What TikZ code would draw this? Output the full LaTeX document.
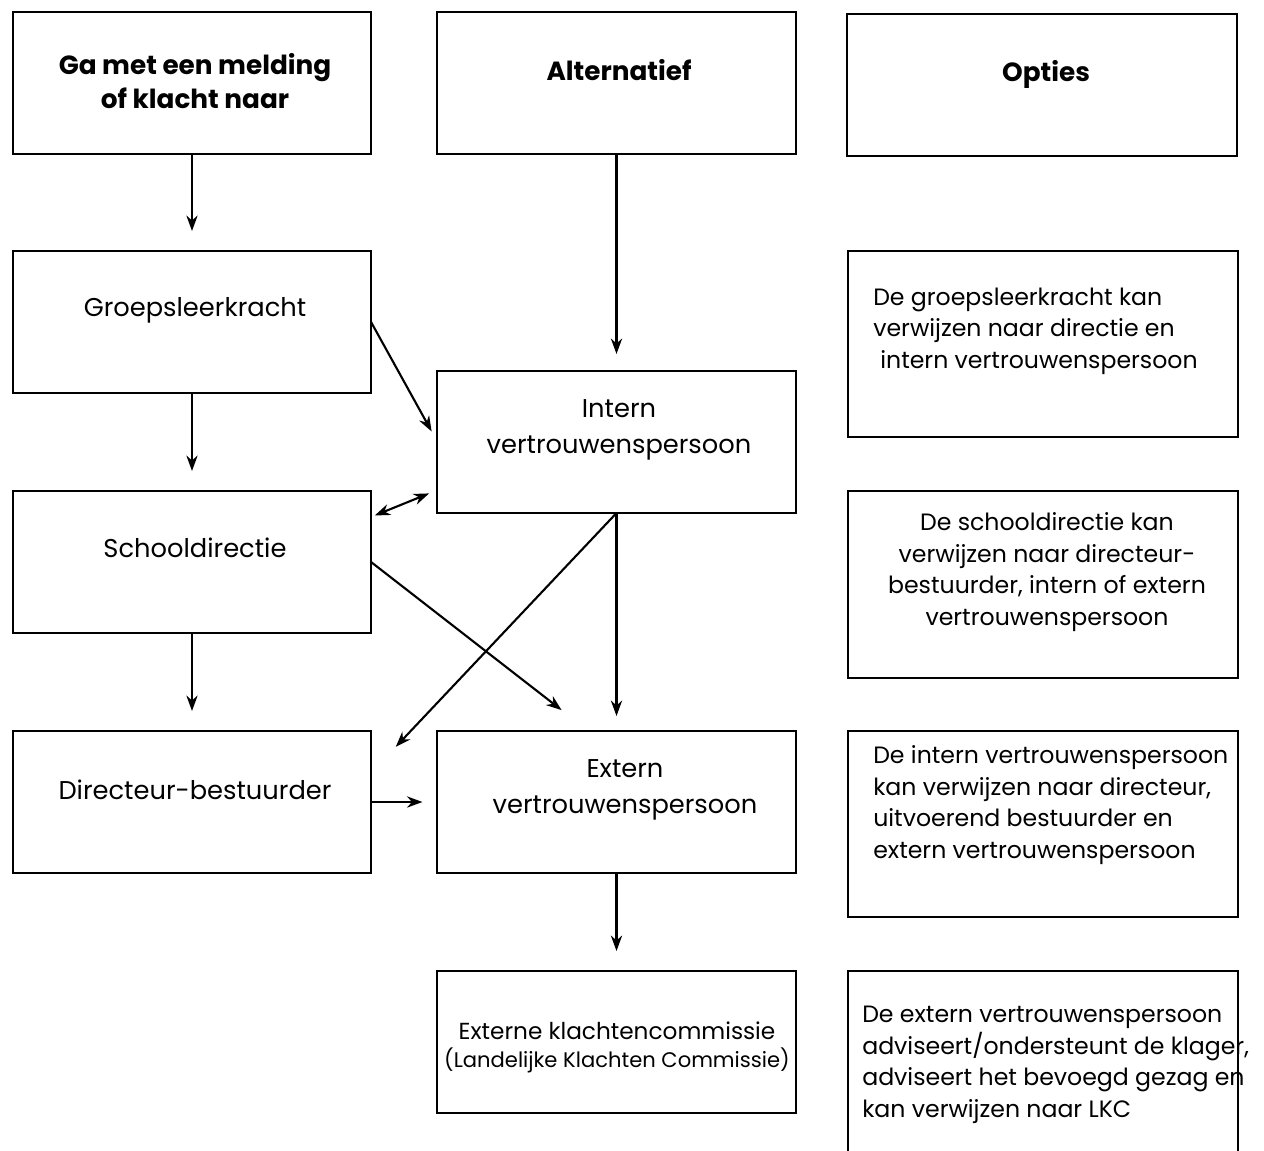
\documentclass[tikz,border=0pt]{standalone}
\usepackage{fontspec}
\setmainfont{Poppins}
\usetikzlibrary{arrows.meta}

\begin{document}
\begin{tikzpicture}[x=0.025cm, y=-0.025cm,
    box/.style={draw, line width=1.4pt, minimum width=8.95cm, minimum height=3.55cm, inner sep=0, outer sep=0},
    optbox/.style={box, minimum width=9.75cm, minimum height=4.65cm},
    txt/.style={font=\fontsize{18.3}{25.6}\selectfont, align=center, inner sep=0},
    kop/.style={txt, font=\fontsize{18.7}{24}\selectfont\bfseries},
    opt/.style={font=\fontsize{16.8}{22.5}\selectfont, align=left, inner sep=0, anchor=west},
    arr/.style={-{Stealth[length=11pt, width=8pt]}, line width=1.5pt}]
    \useasboundingbox (0,0) rectangle (1264,1151);

    % Column headers
    \node[box] (kop1) at (192,83) {};
    \node[box] (alt) at (616.5,83) {};
    \node[box, minimum width=9.75cm] (opties) at (1042,85) {};
    \node[kop] at (195,81) {Ga met een melding\\of klacht naar};
    \node[kop] at (619,70) {Alternatief};
    \node[kop] at (1046,74) {Opties};

    % Left column
    \node[box] (groeps) at (192,322) {};
    \node[box] (school) at (192,562) {};
    \node[box] (dir) at (192,802) {};
    \node[txt] at (195,310) {Groepsleerkracht};
    \node[txt] at (195,548) {Schooldirectie};
    \node[txt] at (195,790) {Directeur-bestuurder};

    % Middle column
    \node[box] (intern) at (616.5,442) {};
    \node[box] (extern) at (616.5,802) {};
    \node[box] (lkc) at (616.5,1042) {};
    \node[txt] at (619,430) {Intern\\vertrouwenspersoon};
    \node[txt] at (625,790) {Extern\\vertrouwenspersoon};
    \node[txt, font=\fontsize{16.5}{20}\selectfont] at (617,1031) {Externe klachtencommissie};
    \node[txt, font=\fontsize{15}{18}\selectfont] at (617,1060) {(Landelijke Klachten Commissie)};

    % Options column
    \node[optbox] (opt1) at (1043,344) {};
    \node[optbox] (opt2) at (1043,584.5) {};
    \node[optbox] (opt3) at (1043,824) {};
    \node[optbox] (opt4) at (1043,1064) {};
    \node[opt] at (873,331) {De groepsleerkracht kan\\verwijzen naar directie en\\\hspace*{5pt}intern vertrouwenspersoon};
    \node[opt, align=center, anchor=center] at (1047,572) {De schooldirectie kan\\verwijzen naar directeur-\\bestuurder, intern of extern\\vertrouwenspersoon};
    \node[opt] at (873,805) {De intern vertrouwenspersoon\\kan verwijzen naar directeur,\\uitvoerend bestuurder en\\extern vertrouwenspersoon};
    \node[opt] at (862,1065) {De extern vertrouwenspersoon\\adviseert/ondersteunt de klager,\\adviseert het bevoegd gezag en\\kan verwijzen naar LKC};

    % Arrows
    \draw[arr, shorten >=0.5cm] (kop1) -- (groeps);
    \draw[arr, shorten >=0.5cm] (groeps) -- (school);
    \draw[arr, shorten >=0.5cm] (school) -- (dir);
    \draw[arr, shorten >=0.425cm] (alt) -- (intern);
    \draw[arr, shorten >=0.375cm] (intern) -- (extern);
    \draw[arr, shorten >=0.375cm] (dir) -- (extern);
    \draw[arr, shorten >=0.5cm] (extern) -- (lkc);
    \draw[arr, shorten >=0.3cm] (groeps.east) -- (intern.west);
    \draw[arr, {Stealth[length=11pt, width=8pt]}-{Stealth[length=11pt, width=8pt]}, shorten <=0.1cm, shorten >=0.225cm]
        ([yshift=-0.65cm]school.north east) -- ([yshift=0.575cm]intern.south west);
    \draw[arr, shorten >=0.85cm] (school.east) -- ([xshift=-0.7cm]extern.north);
    \draw[arr, shorten >=0.9cm] (intern.south) -- ([yshift=-1.05cm]dir.north east);
\end{tikzpicture}
\end{document}
